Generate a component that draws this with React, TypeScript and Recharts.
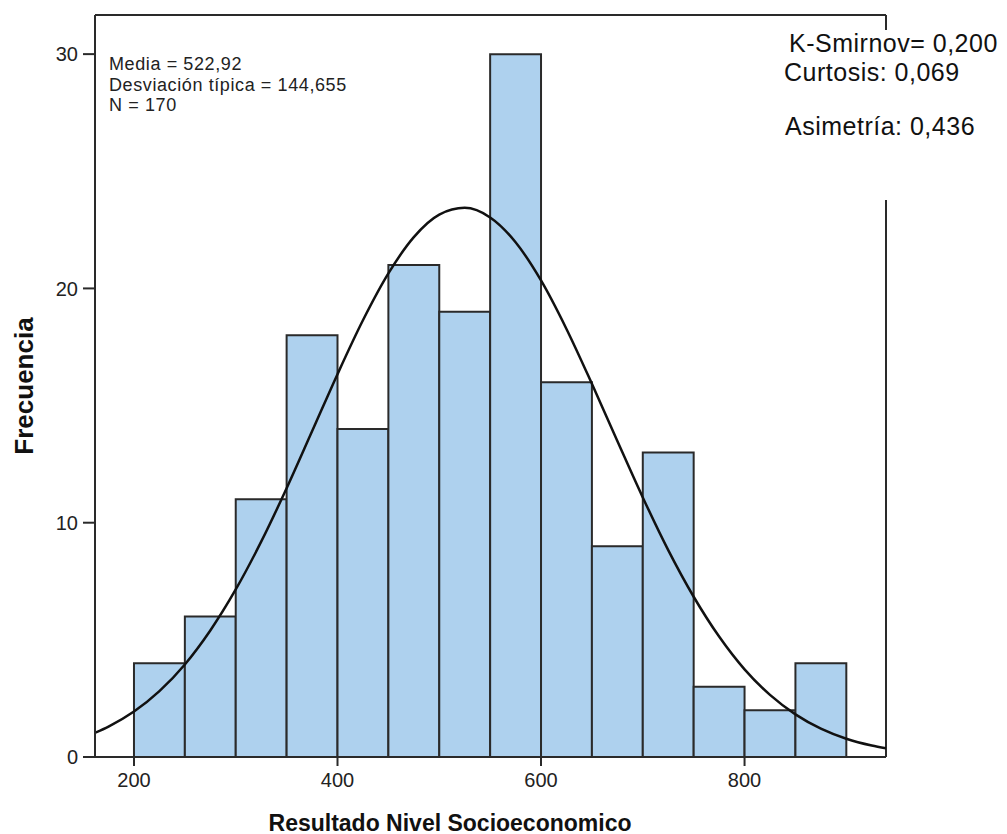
import React from 'react';
import { ComposedChart, Line, XAxis, YAxis, ReferenceArea, ReferenceLine } from 'recharts';

const binStarts = [200, 250, 300, 350, 400, 450, 500, 550, 600, 650, 700, 750, 800, 850];
const binEnds = [250, 300, 350, 400, 450, 500, 550, 600, 650, 700, 750, 800, 850, 900];
const counts = [4, 6, 11, 18, 14, 21, 19, 30, 16, 9, 13, 3, 2, 4];

const curveX = [162, 175, 200, 225, 250, 275, 300, 325, 350, 375, 400, 425, 450, 475, 500, 525, 550, 575, 600, 625, 650, 675, 700, 725, 750, 775, 800, 825, 850, 875, 900, 925, 939];
const curveY = [1.04, 1.3, 1.94, 2.81, 3.95, 5.4, 7.15, 9.19, 11.47, 13.9, 16.34, 18.64, 20.64, 22.19, 23.15, 23.44, 23.03, 21.97, 20.34, 18.27, 15.93, 13.49, 11.08, 8.83, 6.84, 5.14, 3.74, 2.65, 1.82, 1.21, 0.78, 0.49, 0.37];

const xTicks = [200, 400, 600, 800];
const yTicks = [0, 10, 20, 30];

const statsLines = ['Media = 522,92', 'Desviación típica = 144,655', 'N = 170'];
const testLines = ['K-Smirnov= 0,200', 'Curtosis: 0,069', 'Asimetría: 0,436'];
const xTitle = 'Resultado Nivel Socioeconomico';
const yTitle = 'Frecuencia';

const curveData = curveX.map((x, i) => ({ x, y: curveY[i] }));

const FONT = '"Liberation Sans", Arial, sans-serif';
const AXIS = '#2a2a2a';
const X_MIN = 161.7;
const X_MAX = 939;
const Y_MAX = 31.67;

const testPos = [
  { left: 789, top: 31.3 },
  { left: 784, top: 60.3 },
  { left: 785, top: 114.3 },
];

export default function App() {
  return (
    <div style={{ position: 'absolute', left: 0, top: 0, width: 1007, height: 834, background: '#fff', fontFamily: FONT }}>
      <ComposedChart
        width={1007}
        height={834}
        data={curveData}
        margin={{ top: 15, right: 121, bottom: 0, left: 0 }}
      >
        <XAxis
          dataKey="x"
          type="number"
          domain={[X_MIN, X_MAX]}
          allowDataOverflow
          ticks={xTicks}
          height={77}
          tickSize={9}
          tickMargin={7}
          axisLine={{ stroke: AXIS, strokeWidth: 2 }}
          tickLine={{ stroke: AXIS, strokeWidth: 2 }}
          tick={{ fill: '#222', fontSize: 20, fontFamily: FONT }}
        />
        <YAxis
          type="number"
          domain={[0, Y_MAX]}
          allowDataOverflow
          ticks={yTicks}
          width={95}
          tickSize={12}
          tickMargin={5}
          axisLine={{ stroke: AXIS, strokeWidth: 2 }}
          tickLine={{ stroke: AXIS, strokeWidth: 2 }}
          tick={{ fill: '#222', fontSize: 20, fontFamily: FONT }}
        />
        {counts.map((c, i) => (
          <ReferenceArea
            key={i}
            x1={binStarts[i]}
            x2={binEnds[i]}
            y1={0}
            y2={c}
            fill="#aed1ee"
            fillOpacity={1}
            stroke="#2a2a2a"
            strokeWidth={2}
            ifOverflow="visible"
          />
        ))}
        <ReferenceLine y={Y_MAX} stroke={AXIS} strokeWidth={2} ifOverflow="visible" />
        <ReferenceLine x={X_MAX} stroke={AXIS} strokeWidth={2} ifOverflow="visible" />
        <Line
          type="monotone"
          dataKey="y"
          stroke="#111"
          strokeWidth={2.5}
          dot={false}
          activeDot={false}
          isAnimationActive={false}
        />
      </ComposedChart>

      <div style={{ position: 'absolute', left: 109, top: 54, fontSize: 18, letterSpacing: '0.6px', lineHeight: '20.7px', color: '#222', whiteSpace: 'nowrap' }}>
        {statsLines.map((t, i) => (
          <div key={i}>{t}</div>
        ))}
      </div>

      <div style={{ position: 'absolute', left: 775, top: 30, width: 232, height: 170, background: '#fff' }} />
      {testLines.map((t, i) => (
        <div
          key={i}
          style={{ position: 'absolute', left: testPos[i].left, top: testPos[i].top, fontSize: 25, letterSpacing: '0.5px', lineHeight: 1, color: '#111', whiteSpace: 'nowrap' }}
        >
          {t}
        </div>
      ))}

      <div style={{ position: 'absolute', left: 250, top: 812, width: 400, textAlign: 'center', fontSize: 23, fontWeight: 'bold', lineHeight: 1, color: '#111', whiteSpace: 'nowrap' }}>{xTitle}</div>
      <div style={{ position: 'absolute', left: 24 - 100, top: 386 - 13, width: 200, height: 26, textAlign: 'center', fontSize: 26, fontWeight: 'bold', lineHeight: 1, color: '#111', whiteSpace: 'nowrap', transform: 'rotate(-90deg)' }}>{yTitle}</div>
    </div>
  );
}
